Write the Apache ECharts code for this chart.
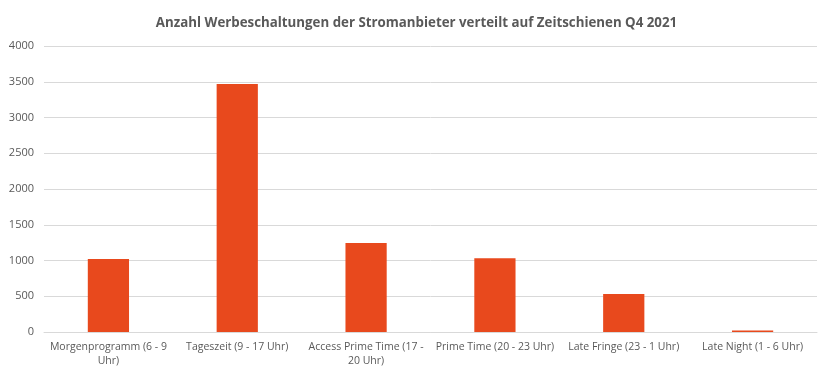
<!DOCTYPE html>
<html>
<head>
<meta charset="utf-8">
<script src="https://cdn.jsdelivr.net/npm/echarts@6/dist/echarts.min.js"></script>
<style>html,body{margin:0;padding:0;background:#fff;}#c{width:833px;height:379px;}</style>
</head>
<body>
<div id="c"></div>
<script>
const title = 'Anzahl Werbeschaltungen der Stromanbieter verteilt auf Zeitschienen Q4 2021';
const categories = ['Morgenprogramm (6 - 9\nUhr)', 'Tageszeit (9 - 17 Uhr)', 'Access Prime Time (17 -\n20 Uhr)', 'Prime Time (20 - 23 Uhr)', 'Late Fringe (23 - 1 Uhr)', 'Late Night (1 - 6 Uhr)'];
const values = [1020, 3470, 1245, 1030, 530, 20];
const yTicks = [0, 500, 1000, 1500, 2000, 2500, 3000, 3500, 4000];

const chart = echarts.init(document.getElementById('c'), null, {renderer: 'canvas'});
chart.setOption({
  animation: false,
  title: {
    text: title, left: 'center', top: 12,
    textStyle: {fontFamily: 'Open Sans', fontSize: 13.3, fontWeight: 'bold', color: '#595959'}
  },
  grid: {left: 44, right: 16, top: 46, bottom: 47, containLabel: false},
  xAxis: {
    type: 'category', data: categories,
    axisLine: {lineStyle: {color: '#d9d9d9'}},
    axisTick: {show: false},
    axisLabel: {interval: 0, color: '#595959', fontFamily: 'Open Sans', fontSize: 10.5, lineHeight: 14, margin: 8}
  },
  yAxis: {
    type: 'value', min: yTicks[0], max: yTicks[yTicks.length - 1], interval: 500,
    axisLine: {show: false}, axisTick: {show: false},
    splitLine: {lineStyle: {color: '#d9d9d9'}},
    axisLabel: {color: '#595959', fontFamily: 'Open Sans', fontSize: 11, margin: 10, formatter: v => String(v)}
  },
  series: [{
    type: 'bar', data: values, barWidth: '32%',
    itemStyle: {color: '#e8491d'}
  }]
});
</script>
</body>
</html>
